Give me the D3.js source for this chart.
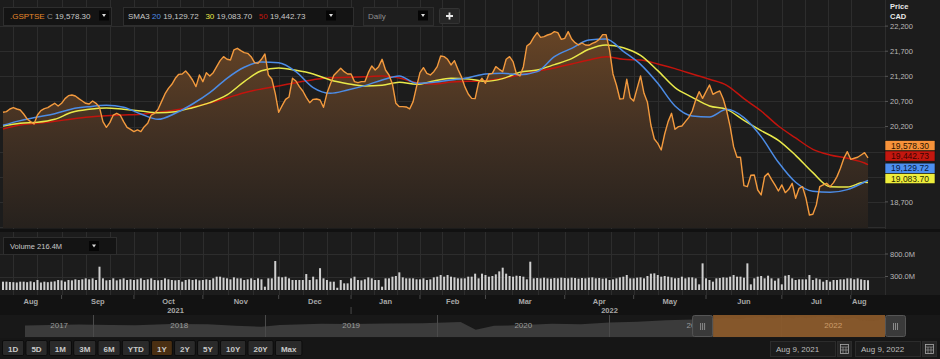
<!DOCTYPE html>
<meta charset="utf-8">
<style>
  body { margin: 0; background: #161616; }
  svg { display: block; font-family: "Liberation Sans", Arial, sans-serif; }
  .grid line { stroke: #2d2d2d; stroke-width: 1; shape-rendering: crispEdges; }
  .tick-label { fill: #b9b9b9; font-size: 7.5px; }
  .month { fill: #a8a8a8; font-size: 7.5px; font-weight: bold; text-anchor: middle; }
  .btn text { font-size: 8px; font-weight: bold; fill: #c9c9c9; text-anchor: middle; }
</style>
<svg width="940" height="359"></svg>
<script src="https://cdnjs.cloudflare.com/ajax/libs/d3/7.8.5/d3.min.js"></script>
<script>
// ---- data ----
const startDate = "2021-08-09", endDate = "2022-08-09"
const holidays = ["2021-08-02", "2021-09-06", "2021-10-11", "2021-12-27", "2021-12-28", "2022-01-03",
  "2022-02-21", "2022-04-15", "2022-05-23", "2022-07-01", "2022-08-01"]

// daily closes, one per trading day
const closes = [
  20484, 20497, 20550, 20576, 20550, 20530, 20450, 20351, 20298, 20251,
  20430, 20517, 20557, 20576, 20623, 20663, 20610, 20663, 20756, 20815,
  20829, 20809, 20756, 20709, 20663, 20649, 20709, 20663, 20583, 20298,
  20185, 20278, 20430, 20464, 20430, 20298, 20185, 20145, 20099, 20132,
  20099, 20198, 20265, 20430, 20464, 20543, 20696, 20849, 20961, 21041,
  21161, 21240, 21247, 21307, 21227, 21127, 20995, 21227, 21094, 21273,
  21207, 21273, 21393, 21512, 21592, 21539, 21526, 21725, 21758, 21711,
  21672, 21658, 21592, 21472, 21459, 21539, 21645, 21227, 21147, 20862,
  20484, 20616, 20742, 20789, 21161, 21107, 20995, 20908, 20782, 20676,
  20742, 20749, 20729, 20583, 20862, 21048, 21220, 21293, 21360, 21293,
  21247, 21247, 21094, 21074, 21094, 21094, 21273, 21406, 21326, 21393,
  21539, 21326, 21227, 21048, 20663, 20596, 20596, 20590, 20550, 20696,
  20995, 21273, 21373, 21260, 21227, 21293, 21393, 21605, 21592, 21539,
  21426, 21512, 21340, 21194, 20995, 20849, 20762, 20756, 21074, 21161,
  21061, 21247, 21260, 21393, 21340, 21293, 21539, 21592, 21492, 21247,
  21207, 21393, 21804, 21857, 21977, 22070, 21977, 21990, 22023, 22043,
  22090, 22070, 21937, 21957, 22090, 21944, 21870, 21824, 21864, 21824,
  21818, 21857, 21884, 21937, 22030, 22030, 21725, 21247, 21028, 20749,
  20756, 21141, 20776, 20709, 20961, 21207, 20862, 20683, 20231, 19953,
  19866, 19734, 20052, 20298, 20464, 20145, 20198, 20211, 20298, 20384,
  20510, 20729, 20895, 20762, 20895, 21028, 20842, 20882, 20908, 20749,
  20510, 20198, 19800, 19588, 19588, 19023, 19003, 19229, 19236, 18937,
  18838, 19203, 19269, 19150, 19037, 18917, 19037, 18884, 18950, 19070,
  18771, 18970, 19003, 18771, 18439, 18453, 18638, 19003, 19037, 19070,
  19003, 19083, 19203, 19369, 19568, 19700, 19548, 19568, 19588, 19634,
  19680, 19578.30
]

// moving averages read every 5 trading days
const smaIdx = [0, 5, 10, 15, 20, 25, 30, 35, 40, 45, 50, 55, 60, 65, 70, 75, 80, 85, 90, 95,
  100, 105, 110, 115, 120, 125, 130, 135, 140, 145, 150, 155, 160, 165, 170, 175, 180, 185, 190, 195,
  200, 205, 210, 215, 220, 225, 230, 235, 240, 245, 250, 251]
const sma20 = [20225, 20318, 20391, 20457, 20550, 20596, 20623, 20583, 20450, 20344,
  20464, 20649, 20875, 21161, 21380, 21486, 21472, 21293, 20975, 20862,
  20928, 21015, 21127, 21207, 21061, 21081, 21127, 21174, 21247, 21260,
  21234, 21293, 21592, 21758, 21924, 21944, 21698, 21439, 21061, 20610,
  20411, 20391, 20543, 20377, 19999, 19488, 19090, 18911, 18891, 18944,
  19096, 19129.72]
const sma30 = [20211, 20265, 20284, 20344, 20484, 20543, 20570, 20543, 20510, 20477,
  20497, 20576, 20676, 20829, 21094, 21313, 21366, 21320, 21247, 21127,
  21054, 21008, 21021, 21081, 21041, 21107, 21161, 21147, 21101, 21154,
  21280, 21326, 21433, 21552, 21738, 21824, 21771, 21618, 21313, 20975,
  20782, 20610, 20543, 20324, 20119, 19926, 19627, 19282, 19003, 18996,
  19090, 19083.70]
const sma50 = [20152, 20231, 20265, 20304, 20351, 20391, 20417, 20430, 20444, 20484,
  20530, 20590, 20669, 20769, 20875, 20948, 21008, 21074, 21134, 21174,
  21180, 21194, 21207, 21167, 21074, 21048, 21088, 21101, 21114, 21161,
  21227, 21300, 21366, 21446, 21526, 21592, 21539, 21526, 21446, 21353,
  21247, 21141, 21021, 20756, 20510, 20211, 19973, 19747, 19634, 19568,
  19475, 19442.73]

// daily volume, millions
const volumes = [
  185, 185, 178, 174, 167, 185, 185, 174, 192, 174, 222, 167, 185, 174, 185, 192, 222,
  214, 185, 222, 214, 237, 222, 237, 259, 237, 259, 222, 518, 259, 214, 222, 259, 214, 237, 259, 222, 237,
  222, 237, 259, 222, 237, 259, 222, 214, 222, 259, 237, 222, 214, 222, 185, 222, 237, 222, 237, 214,
  222, 237, 222, 259, 296, 296, 274, 259, 237, 281, 259, 259, 222, 237, 259, 222, 259, 237, 74, 259, 259, 644,
  296, 281, 296, 259, 222, 222, 222, 222, 355, 222, 296, 237, 485, 259, 222, 185, 185, 50, 222, 148, 148,
  259, 296, 222, 214, 237, 281, 259, 222, 222, 74, 259, 259, 296, 311, 392, 281, 259, 259, 259, 237,
  237, 259, 222, 237, 281, 296, 333, 296, 333, 296, 281, 259, 259, 259, 296,
  296, 363, 259, 363, 333, 296, 311, 348, 414, 496, 363, 311, 296, 318, 311, 296, 237, 629,
  259, 266, 259, 274, 259, 252, 266, 259, 274,
  266, 259, 274, 266, 252, 266, 259, 274, 281, 259, 266, 252, 259, 222, 237, 259, 281, 296, 333, 259,
  259, 274, 281, 259, 311, 363, 370, 333, 296, 311, 296, 281, 259, 266, 296, 259, 281, 281, 259, 126, 592,
  259, 222, 185, 259, 266, 281, 274, 296, 333, 296, 296, 274, 592, 126, 259, 296, 311, 259, 318, 259, 207, 259,
  126, 318, 333, 259, 222, 237, 237, 237, 333, 222, 259, 237, 185, 222, 185, 222, 222, 237, 237, 259,
  259, 237, 259, 237, 222, 216.4
]

const priceTicks = [22200, 21700, 21200, 20700, 20200, 19700, 19200, 18700]
const volTicks = [800, 300]

// long history for the navigator strip (before the selected year)
const navDates = ["2017-08-09", "2017-10-01", "2017-12-01", "2018-02-08", "2018-04-01", "2018-06-15",
  "2018-09-01", "2018-10-30", "2018-12-24", "2019-02-01", "2019-04-30", "2019-07-01", "2019-09-15",
  "2019-12-01", "2020-02-20", "2020-03-23", "2020-05-01", "2020-07-01", "2020-09-01", "2020-11-01",
  "2021-01-01", "2021-03-01", "2021-05-01", "2021-08-06"]
const navValues = [15100, 15600, 16000, 15500, 15400, 16300, 16100, 15000, 14300, 15600, 16500, 16400,
  16700, 17000, 17900, 11800, 15000, 15500, 16500, 16200, 17500, 18200, 19300, 20300]

const ranges = ["1D", "5D", "1M", "3M", "6M", "YTD", "1Y", "2Y", "5Y", "10Y", "20Y", "Max"]
const activeRange = "1Y"

// ---- trading calendar ----
const fmtDay = d3.utcFormat("%Y-%m-%d")
const parseDay = d3.utcParse("%Y-%m-%d")
const isTrading = d => d.getUTCDay() % 6 !== 0 && !holidays.includes(fmtDay(d))
const extDays = d3.utcDay.range(parseDay("2021-08-01"), parseDay("2022-09-01")).filter(isTrading)
const idx0 = extDays.findIndex(d => fmtDay(d) === startDate)
const days = extDays.slice(idx0, idx0 + closes.length)

// ---- scales ----
const svg = d3.select("svg")
const plotR = 885
const x = d3.scaleLinear().domain([0, closes.length - 1]).range([3, 868])
const y = d3.scaleLinear().domain([18180, 22720]).range([228, 0])
const yv = d3.scaleLinear().domain([0, 800]).range([290, 254])
const last = arr => arr[arr.length - 1]

// backgrounds
svg.append("rect").attr("width", 940).attr("height", 359).attr("fill", "#161616")
svg.append("rect").attr("width", 940).attr("height", 229).attr("fill", "#1c1c1c")
svg.append("rect").attr("y", 232).attr("width", 940).attr("height", 63).attr("fill", "#1c1c1c")
svg.append("rect").attr("y", 295).attr("width", 940).attr("height", 20).attr("fill", "#121212")

// month structure for grid and axis
const months = d3.groups(extDays.map((d, i) => ({ d, i: i - idx0 })), e => d3.utcMonth(e.d).getTime())
  .map(([k, arr]) => ({ month: new Date(k), first: arr[0].i }))
months.forEach((m, j) => { m.next = j < months.length - 1 ? months[j + 1].first : m.first + 22 })
const gridIdx = []
months.forEach(m => {
  const span = m.next - m.first
  ;[0, 1, 2].forEach(k => gridIdx.push(m.first + span * k / 3))
})
const gridX = gridIdx.map(x).filter(v => v >= 0 && v <= 868)

// grids
const grid = svg.append("g").attr("class", "grid")
grid.selectAll(".vp").data(gridX).join("line")
  .attr("x1", d => Math.round(d) + 0.5).attr("x2", d => Math.round(d) + 0.5).attr("y1", 0).attr("y2", 229)
grid.selectAll(".vv").data(gridX).join("line")
  .attr("x1", d => Math.round(d) + 0.5).attr("x2", d => Math.round(d) + 0.5).attr("y1", 232).attr("y2", 295)
grid.selectAll(".hp").data(priceTicks.concat([18200])).join("line")
  .attr("x1", 0).attr("x2", plotR).attr("y1", d => Math.round(y(d)) + 0.5).attr("y2", d => Math.round(y(d)) + 0.5)
grid.selectAll(".hv").data(volTicks).join("line")
  .attr("x1", 0).attr("x2", plotR).attr("y1", d => Math.round(yv(d)) + 0.5).attr("y2", d => Math.round(yv(d)) + 0.5)
grid.append("line").attr("x1", plotR + 0.5).attr("x2", plotR + 0.5).attr("y1", 0).attr("y2", 295)

// price area
const defs = svg.append("defs")
const grad = defs.append("linearGradient").attr("id", "fillGrad")
  .attr("gradientUnits", "userSpaceOnUse").attr("x1", 0).attr("x2", 0).attr("y1", 20).attr("y2", 228)
grad.append("stop").attr("offset", 0).attr("stop-color", "#6a4626")
grad.append("stop").attr("offset", 0.55).attr("stop-color", "#413023")
grad.append("stop").attr("offset", 1).attr("stop-color", "#26211d")

svg.append("path").datum(closes)
  .attr("fill", "url(#fillGrad)")
  .attr("d", d3.area().x((d, i) => x(i)).y0(228).y1(d => y(d)))

const smaLine = d3.line().x((d, k) => x(smaIdx[k])).y(d => y(d)).curve(d3.curveMonotoneX)
;[[sma50, "#c3140d"], [sma30, "#e9e94a"], [sma20, "#4c8ce6"]].forEach(([s, c]) => {
  svg.append("path").datum(s).attr("fill", "none").attr("stroke", c).attr("stroke-width", 1.5).attr("d", smaLine)
})
svg.append("path").datum(closes)
  .attr("fill", "none").attr("stroke", "#f39a3e").attr("stroke-width", 1.4).attr("stroke-linejoin", "round")
  .attr("d", d3.line().x((d, i) => x(i)).y(d => y(d)))

// volume bars
svg.append("g").selectAll("rect").data(volumes).join("rect")
  .attr("x", (d, i) => x(i) - 1).attr("width", 2)
  .attr("y", d => yv(d)).attr("height", d => yv(0) - yv(d))
  .attr("fill", "#cfcfcf")

// separator between panels
svg.append("rect").attr("y", 229).attr("width", 940).attr("height", 3).attr("fill", "#111")

// last value tags (laid out first so covered tick labels can be skipped)
const tags = [
  { v: last(closes), bg: "#f7923a", fg: "#2a1400" },
  { v: last(sma50), bg: "#c4170f", fg: "#3a0402" },
  { v: last(sma20), bg: "#4d8ff0", fg: "#07183a" },
  { v: last(sma30), bg: "#eeee3c", fg: "#2a2a00" }
]
let prevC = -Infinity
tags.forEach(t => { t.c = Math.max(prevC + 10.4, y(t.v) - 12); prevC = t.c })
const tagTop = tags[0].c - 5.2, tagBottom = last(tags).c + 5.2
const covered = v => y(v) > tagTop - 4 && y(v) < tagBottom + 4

// right price axis
const axisX = plotR + 5
svg.append("text").attr("x", axisX).attr("y", 9).attr("fill", "#e8e8e8").attr("font-size", 7.5)
  .attr("font-weight", "bold").text("Price")
svg.append("text").attr("x", axisX).attr("y", 19).attr("fill", "#e8e8e8").attr("font-size", 7.5)
  .attr("font-weight", "bold").text("CAD")
const pa = svg.append("g")
pa.selectAll("line").data(priceTicks).join("line")
  .attr("x1", plotR).attr("x2", plotR + 3).attr("y1", d => y(d)).attr("y2", d => y(d)).attr("stroke", "#555")
pa.selectAll("text").data(priceTicks.filter(v => !covered(v))).join("text").attr("class", "tick-label")
  .attr("x", axisX).attr("y", d => y(d) + 2.7).text(d3.format(","))
const va = svg.append("g")
va.selectAll("line").data(volTicks).join("line")
  .attr("x1", plotR).attr("x2", plotR + 3).attr("y1", d => yv(d)).attr("y2", d => yv(d)).attr("stroke", "#555")
va.selectAll("text").data(volTicks).join("text").attr("class", "tick-label")
  .attr("x", axisX).attr("y", d => yv(d) + 2.7).text(d => d3.format(".1f")(d) + "M")

const tg = svg.append("g").selectAll("g").data(tags).join("g")
tg.append("rect").attr("x", plotR).attr("y", d => d.c - 5.2).attr("width", 50).attr("height", 10.2)
  .attr("fill", d => d.bg).attr("stroke", "#111").attr("stroke-width", 0.6)
tg.append("text").attr("x", plotR + 25).attr("y", d => d.c + 3).attr("text-anchor", "middle")
  .attr("font-size", 8.5).attr("fill", d => d.fg).text(d => d3.format(",.2f")(d.v))

// small dropdown button
function dropdown(g, x0, y0) {
  g.append("rect").attr("x", x0).attr("y", y0).attr("width", 10).attr("height", 10).attr("fill", "#050505")
  g.append("path").attr("d", `M${x0 + 3},${y0 + 3.5}h4l-2,3z`).attr("fill", "#ddd")
}

// header boxes
const hdr = svg.append("g")
hdr.append("rect").attr("x", 3.5).attr("y", 7.5).attr("width", 108).attr("height", 18)
  .attr("fill", "#141414").attr("stroke", "#2e2e2e")
const t1 = hdr.append("text").attr("x", 10).attr("y", 19).attr("font-size", 8)
t1.append("tspan").attr("fill", "#e8892b").text(".GSPTSE ")
t1.append("tspan").attr("fill", "#8a8a8a").text("C ")
t1.append("tspan").attr("fill", "#c8c8c8").text(d3.format(",.2f")(last(closes)))
dropdown(hdr, 99, 10.5)

hdr.append("rect").attr("x", 123.5).attr("y", 7.5).attr("width", 230).attr("height", 18)
  .attr("fill", "#141414").attr("stroke", "#2e2e2e")
const t2 = hdr.append("text").attr("x", 128).attr("y", 19).attr("font-size", 8).attr("xml:space", "preserve")
t2.append("tspan").attr("fill", "#c8c8c8").text("SMA3 ")
t2.append("tspan").attr("fill", "#4c8ce6").text("20 ")
t2.append("tspan").attr("fill", "#c8c8c8").text(d3.format(",.2f")(last(sma20)) + "   ")
t2.append("tspan").attr("fill", "#e9e94a").text("30 ")
t2.append("tspan").attr("fill", "#c8c8c8").text(d3.format(",.2f")(last(sma30)) + "   ")
t2.append("tspan").attr("fill", "#c3140d").text("50 ")
t2.append("tspan").attr("fill", "#c8c8c8").text(d3.format(",.2f")(last(sma50)))
dropdown(hdr, 326, 10.5)

hdr.append("rect").attr("x", 363.5).attr("y", 7.5).attr("width", 70).attr("height", 18)
  .attr("fill", "#1e1e1e").attr("stroke", "#2e2e2e")
hdr.append("text").attr("x", 368).attr("y", 19).attr("font-size", 8).attr("fill", "#8f8f8f").text("Daily")
dropdown(hdr, 418, 10.5)
hdr.append("rect").attr("x", 439.5).attr("y", 8.5).attr("width", 20).attr("height", 15).attr("rx", 1)
  .attr("fill", "#262626").attr("stroke", "#333")
hdr.append("path").attr("d", "M449.5,12.5v7M446,16h7").attr("stroke", "#e8e8e8").attr("stroke-width", 1.8)

// volume label box
svg.append("rect").attr("x", 3.5).attr("y", 237.5).attr("width", 113).attr("height", 17)
  .attr("fill", "#141414").attr("stroke", "#2e2e2e")
svg.append("text").attr("x", 10).attr("y", 249).attr("font-size", 7.5).attr("fill", "#c8c8c8")
  .text("Volume  " + d3.format(".1f")(last(volumes)) + "M")
dropdown(svg, 89, 241)

// bottom time axis
const monthFmt = d3.utcFormat("%b")
const axG = svg.append("g")
const mTicks = months.filter(m => m.first > 0 && m.first <= closes.length - 1)
axG.selectAll("line").data(mTicks).join("line")
  .attr("x1", d => x(d.first)).attr("x2", d => x(d.first)).attr("y1", 295).attr("y2", 299)
  .attr("stroke", "#4a4a4a")
const mLabels = months.filter(m => m.next > 0 && m.first <= closes.length - 1)
axG.selectAll("text").data(mLabels).join("text").attr("class", "month")
  .attr("x", d => (Math.max(x(d.first), 0) + Math.min(x(d.next), 868)) / 2).attr("y", 304)
  .text(d => monthFmt(d.month))
const years = d3.groups(mLabels, m => m.month.getUTCFullYear()).map(([yr, ms]) => ({
  yr, a: Math.max(x(ms[0].first), 0), b: Math.min(x(last(ms).next), 868), first: ms[0].first
}))
axG.selectAll(".yr").data(years).join("text").attr("class", "month")
  .attr("x", d => (d.a + d.b) / 2).attr("y", 313).text(d => d.yr)
axG.selectAll(".ysep").data(years.filter(d => d.first > 0)).join("line")
  .attr("x1", d => x(d.first)).attr("x2", d => x(d.first)).attr("y1", 307).attr("y2", 314).attr("stroke", "#4a4a4a")

// navigator
const navSeries = navDates.map((d, i) => ({ d: parseDay(d), v: navValues[i] }))
  .concat(days.map((d, i) => ({ d, v: closes[i] })))
const nx = d3.scaleUtc().domain([parseDay("2017-08-09"), parseDay(endDate)]).range([25, 885])
const ny = d3.scaleLinear().domain([7000, 23000]).range([336, 315.5])
const nav = svg.append("g")
nav.append("rect").attr("y", 315).attr("width", 940).attr("height", 23).attr("fill", "#181818")
const navArea = d3.area().x(d => nx(d.d)).y0(337).y1(d => ny(d.v))
nav.append("path").datum(navSeries).attr("fill", "#3b3b3b").attr("d", navArea)
const navYears = d3.utcYear.range(d3.utcYear.ceil(nx.domain()[0]), nx.domain()[1])
nav.selectAll(".ns").data(navYears).join("line")
  .attr("x1", d => Math.round(nx(d)) + 0.5).attr("x2", d => Math.round(nx(d)) + 0.5).attr("y1", 315).attr("y2", 337)
  .attr("stroke", "#4a4a4a")
const yrBounds = [nx.domain()[0]].concat(navYears, [nx.domain()[1]])
nav.selectAll(".nl").data(d3.pairs(yrBounds)).join("text")
  .attr("x", d => (nx(d[0]) + nx(d[1])) / 2).attr("y", 328).attr("text-anchor", "middle")
  .attr("font-size", 8).attr("fill", "#9a9a9a").text(d => d[0].getUTCFullYear())
const selA = nx(parseDay(startDate)), selB = nx(parseDay(endDate))
nav.append("rect").attr("x", selA).attr("y", 315).attr("width", selB - selA).attr("height", 22)
  .attr("fill", "#8c5a2a").attr("opacity", 0.92)
nav.append("text").attr("x", (nx(parseDay("2022-01-01")) + selB) / 2).attr("y", 328)
  .attr("text-anchor", "middle").attr("font-size", 8).attr("fill", "#c99a68").text("2022")
;[selA - 21, selB].forEach(hx => {
  nav.append("rect").attr("x", hx + 0.5).attr("y", 315.5).attr("width", 20).attr("height", 21).attr("rx", 2)
    .attr("fill", "#3a3a3a").attr("stroke", "#555")
  ;[-2, 0, 2].forEach(o => nav.append("line").attr("x1", hx + 10.5 + o).attr("x2", hx + 10.5 + o)
    .attr("y1", 323).attr("y2", 330).attr("stroke", "#8a8a8a"))
})

// range buttons
const btnG = svg.append("g").attr("class", "btn")
let bx = 2.5
ranges.forEach(r => {
  const g = btnG.append("g")
  const t = g.append("text").attr("y", 351.5).text(r)
  const w = t.node().getComputedTextLength() + 11
  const on = r === activeRange
  g.insert("rect", "text").attr("x", bx).attr("y", 340.5).attr("width", w).attr("height", 15).attr("rx", 1.5)
    .attr("fill", on ? "#4a2f12" : "#2a2a2a").attr("stroke", "#0c0c0c")
  t.attr("x", bx + w / 2).attr("fill", on ? "#d9822b" : "#c9c9c9")
  bx += w + 2.2
})

// date range boxes
const dateFmt = d3.utcFormat("%b %-d, %Y")
;[[770, days[0]], [855, last(days)]].forEach(([dx, d]) => {
  svg.append("rect").attr("x", dx + 0.5).attr("y", 341.5).attr("width", 65).attr("height", 15)
    .attr("fill", "#1c1c1c").attr("stroke", "#2c2c2c")
  svg.append("text").attr("x", dx + 6).attr("y", 352).attr("font-size", 8).attr("fill", "#bdbdbd").text(dateFmt(d))
  const ix = dx + 67
  svg.append("rect").attr("x", ix + 0.5).attr("y", 341.5).attr("width", 14).attr("height", 15)
    .attr("fill", "#262626").attr("stroke", "#2c2c2c")
  svg.append("rect").attr("x", ix + 3.5).attr("y", 344.5).attr("width", 8).attr("height", 9)
    .attr("fill", "none").attr("stroke", "#aaa").attr("stroke-width", 0.8)
  svg.append("path").attr("d", `M${ix + 3.5},347h8M${ix + 6},347v6.5M${ix + 9},347v6.5M${ix + 3.5},350h8`)
    .attr("stroke", "#aaa").attr("stroke-width", 0.6)
})
</script>
